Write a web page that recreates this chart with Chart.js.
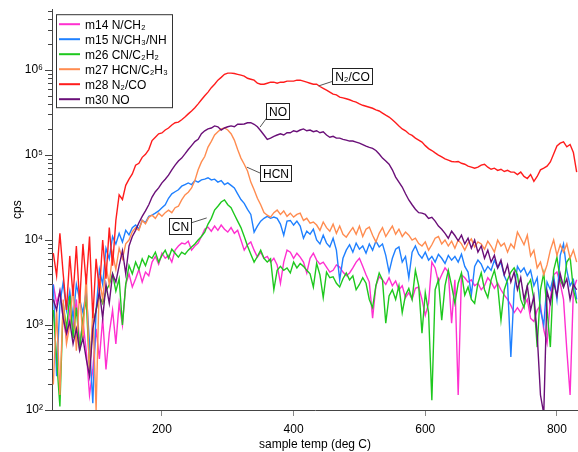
<!DOCTYPE html>
<html>
<head>
<meta charset="utf-8">
<script src="https://cdn.jsdelivr.net/npm/chart.js@4.4.1/dist/chart.umd.min.js"></script>
<style>
  html, body { margin: 0; padding: 0; background: #fff; }
</style>
</head>
<body>
<canvas id="myChart" width="578" height="452"></canvas>
<script>
// sample temperature (deg C), one reading every 5 degrees
const temps = [
  35,40,45,50,55,60,65,70,75,80,
  85,90,95,100,105,110,115,120,125,130,
  135,140,145,150,155,160,165,170,175,180,
  185,190,195,200,205,210,215,220,225,230,
  235,240,245,250,255,260,265,270,275,280,
  285,290,295,300,305,310,315,320,325,330,
  335,340,345,350,355,360,365,370,375,380,
  385,390,395,400,405,410,415,420,425,430,
  435,440,445,450,455,460,465,470,475,480,
  485,490,495,500,505,510,515,520,525,530,
  535,540,545,550,555,560,565,570,575,580,
  585,590,595,600,605,610,615,620,625,630,
  635,640,645,650,655,660,665,670,675,680,
  685,690,695,700,705,710,715,720,725,730,
  735,740,745,750,755,760,765,770,775,780,
  785,790,795,800,805,810,815,820,825,830
];

// counts per second for each mass
const m14 = [
  3000,1800,2500,1200,700,1500,900,2000,600,1100,
  500,150,300,900,400,1200,300,800,1500,600,
  1800,1000,3000,4000,2800,3500,4500,3200,4200,3800,
  5500,6400,5200,7000,6100,6600,5500,7600,8500,9200,
  9000,9700,7600,8500,9200,11000,13400,14200,12700,14600,
  13000,15000,13400,12400,14000,12000,13000,10000,7600,8800,
  9500,7600,6300,7200,6100,6400,5500,6100,5100,3100,
  5500,7600,7200,6100,7000,6300,5500,4100,6100,7000,
  5800,5200,5500,4800,4200,4400,5100,4800,4200,3800,
  4100,4700,5500,6100,4900,3900,3200,1200,2900,3700,
  3400,3000,3600,2900,3300,2600,2900,2100,2400,2000,
  2700,2800,2000,1300,1800,5500,4700,3200,3900,4700,
  4200,1050,3400,150,3900,3600,3200,3400,2900,3100,
  2600,2900,3600,3200,2700,3100,2600,2250,2000,1700,
  1400,1600,1400,1700,2000,1200,1100,1500,1700,880,
  610,2000,3900,4200,3100,2000,510,150,2600,3400
];
const m15 = [
  3000,250,1800,3200,1500,2500,1200,3000,2000,1400,
  2500,600,120,1500,4500,3000,8000,6000,11000,9000,
  12000,9500,13000,11500,14000,15000,13500,17000,16000,19000,
  19600,20700,22000,24000,26000,31000,35000,37000,39000,43000,
  45000,47000,45000,50000,48000,51000,52000,54000,51000,52000,
  48000,50000,45000,47000,44000,41000,35000,30000,27000,23000,
  20000,12400,14600,16700,18000,19000,18000,18600,18000,15400,
  11400,16700,17000,15000,16700,14600,10500,12700,11700,13400,
  10000,9000,11400,9200,8300,10500,7600,3400,6100,7600,
  8800,7200,9200,7800,8500,7000,9000,7600,9700,8300,
  9000,6600,4200,6100,7800,8300,5500,6400,3600,7200,
  8500,6800,6100,7200,5800,6400,5500,6800,6100,5300,
  6600,5800,6400,5500,6800,4900,4200,2250,4900,5800,
  5200,4200,4900,4400,5800,4700,5500,3800,3100,420,
  2600,4900,4200,4700,3800,4400,2900,3600,1500,1000,
  3200,2600,3800,2000,6600,9000,4400,2900,3400,2000
];
const m26 = [
  1500,400,110,1800,900,2200,700,1600,500,1200,
  2000,300,1000,1500,2200,1800,2500,3000,4000,2500,
  3500,1000,3000,5000,4000,5500,4500,6000,5000,6500,
  6100,7200,5500,6600,7600,6100,7800,7000,6300,7200,
  6800,7600,8300,9000,10000,11000,12400,15400,18000,22500,
  25000,28000,29600,26000,24000,20000,16700,14000,11000,8500,
  6800,5500,6400,7600,6100,5500,6000,2600,4400,4900,
  4400,4700,4100,5500,4700,5300,4900,4400,4000,2800,
  5300,3900,2100,4200,3600,3700,3100,2800,3500,4100,
  3400,3800,2600,3000,3600,3100,2000,1600,2900,4100,
  3400,1050,2200,2600,2000,2900,1400,2250,2700,2000,
  4400,2900,800,2400,1400,130,2600,3400,1140,2900,
  4400,2900,1800,3100,4100,2250,2800,2000,1800,3100,
  4100,2600,2100,3400,4400,2900,1140,2600,3400,4200,
  4700,3900,2000,1600,2900,3400,2000,550,2600,4100,
  1500,550,4400,6300,3400,2800,5500,6300,2600,1800
];
const m27 = [
  200,1500,150,2000,600,1000,3000,500,2500,700,
  4000,250,1500,100,3500,2000,5000,3000,7000,4500,
  8000,6000,9000,10000,12500,14000,13000,17000,15500,18500,
  19600,18000,20700,19000,21000,22500,21000,24000,25000,29600,
  34000,36500,41000,50000,67000,83000,96000,124000,145000,172000,
  188000,203000,208000,197000,178000,150000,116000,92000,78000,65000,
  48000,39000,31000,26000,21000,19600,18600,21000,22500,20000,
  22000,19000,20700,18600,20000,20700,17000,18000,15800,16300,
  15000,13000,16300,14000,12700,15400,12000,14600,11700,10800,
  12400,14000,11700,14600,11000,13400,14200,11400,9500,12000,
  14000,11000,12700,14600,11700,13400,11000,12400,11400,10000,
  10500,9100,8500,9500,7600,8800,10500,11000,9000,10000,
  8500,9700,8000,10000,9000,7600,9200,10300,8300,9500,
  9000,7800,9700,8500,7200,10000,8500,9200,7200,9000,
  8000,12400,10500,8800,11400,6500,7600,4700,5500,3900,
  5100,7600,10000,6600,8800,7200,9000,6100,7600,5500
];
const m28 = [
  7000,3800,12000,4000,1500,6500,2200,8500,1800,9000,
  3000,11000,1200,6000,2500,10000,3500,14000,5000,17000,
  34000,30000,44000,52000,60000,76000,80000,94000,102000,116000,
  148000,162000,178000,182000,197000,208000,226000,240000,244000,260000,
  280000,305000,330000,360000,400000,447000,498000,550000,620000,680000,
  760000,820000,890000,920000,920000,910000,890000,870000,850000,800000,
  780000,760000,700000,680000,680000,700000,720000,720000,700000,720000,
  720000,740000,740000,740000,760000,760000,740000,720000,700000,680000,
  680000,640000,610000,580000,550000,520000,510000,480000,470000,460000,
  447000,430000,420000,400000,385000,375000,365000,355000,340000,330000,
  312000,295000,280000,260000,240000,220000,203000,193000,178000,170000,
  158000,150000,142000,129000,119000,113000,106000,100000,95000,90000,
  87000,84000,83000,84000,80000,78000,74000,72000,70000,72000,
  76000,78000,72000,68000,70000,66000,68000,64000,66000,63000,
  63000,59000,63000,56000,53000,59000,49000,56000,67000,70000,
  74000,83000,103000,128000,138000,143000,125000,133000,107000,63000
];
const m30 = [
  2000,1500,2500,1200,800,1100,600,900,500,700,
  400,250,900,1500,2500,1200,3000,1800,4000,3200,
  5000,7500,4000,8500,11000,13000,16000,19000,22000,26000,
  32000,37000,41000,47000,52000,58000,67000,76000,85000,92000,
  103000,116000,129000,144000,153000,178000,193000,203000,208000,220000,
  215000,197000,208000,215000,220000,215000,230000,230000,232000,240000,
  240000,230000,215000,193000,172000,153000,158000,166000,172000,178000,
  172000,183000,183000,193000,188000,197000,203000,193000,197000,188000,
  193000,183000,188000,172000,162000,166000,158000,158000,153000,150000,
  146000,146000,142000,138000,133000,127000,123000,120000,113000,103000,
  92000,85000,78000,67000,55000,48000,42000,35000,29600,26000,
  23000,21000,20700,20000,18000,18500,16700,14600,13400,12000,
  10500,12700,11300,9800,11400,9000,10500,8000,10000,7200,
  8500,6100,7600,5500,6600,4700,5800,3900,5100,3200,
  4200,2600,3600,2000,2900,1500,2200,770,150,90,
  2500,1800,3200,2200,4000,2800,3500,2000,3000,2600
];

const seriesValues = [m14, m15, m26, m27, m28, m30];
const seriesLabels = ["m14 N/CH₂", "m15 N/CH₃/NH", "m26 CN/C₂H₂", "m27 HCN/C₂H₃", "m28 N₂/CO", "m30 NO"];
const seriesColors = ["#ff30d0", "#1f80ff", "#1ec81e", "#ff8c50", "#ff1c1c", "#6a0f78"];

const yMajorTicks = [1e2, 1e3, 1e4, 1e5, 1e6];
const yTickLabels = ["10²", "10³", "10⁴", "10⁵", "10⁶"];
const xTicks = [200, 400, 600, 800];

// boxed callouts: label position and leader line, in data units
const notes = [
  { text: "N₂/CO", x: 489, y: 8.6e5, from: [460, 7.4e5], to: [438, 6.5e5] },
  { text: "NO", x: 375, y: 3.34e5, from: [359, 2.72e5], to: [349, 2.13e5] },
  { text: "HCN", x: 373, y: 6.1e4, from: [352, 6.0e4], to: [329, 7.2e4] },
  { text: "CN", x: 227, y: 1.48e4, from: [243, 1.58e4], to: [268, 1.82e4] }
];

const FONT = "'Liberation Sans', Arial, Helvetica, sans-serif";
Chart.defaults.font.family = FONT;
Chart.defaults.font.size = 12;
Chart.defaults.color = "#000";

const minorTicks = {
  id: "minorTicks",
  afterDraw(chart) {
    const y = chart.scales.y;
    const ctx = chart.ctx;
    ctx.save();
    ctx.strokeStyle = "#444";
    ctx.lineWidth = 1;
    ctx.beginPath();
    for (let e = 2; e <= 6; e++) {
      for (let m = 2; m <= 9; m++) {
        const v = m * Math.pow(10, e);
        if (v > y.max) break;
        const py = Math.round(y.getPixelForValue(v)) + 0.5;
        ctx.moveTo(y.right - 4, py);
        ctx.lineTo(y.right, py);
      }
    }
    ctx.stroke();
    ctx.restore();
  }
};

const boxLegend = {
  id: "boxLegend",
  afterDatasetsDraw(chart) {
    const ctx = chart.ctx;
    const area = chart.chartArea;
    const ds = chart.data.datasets;
    const x0 = area.left + 4, y0 = area.top + 5, w = 116, rowH = 15;
    const h = rowH * ds.length + 3;
    ctx.save();
    ctx.fillStyle = "#fff";
    ctx.fillRect(x0, y0, w, h);
    ctx.strokeStyle = "#333";
    ctx.lineWidth = 1;
    ctx.strokeRect(x0 + 0.5, y0 + 0.5, w, h);
    ctx.font = "12px " + FONT;
    ctx.textBaseline = "middle";
    ctx.textAlign = "left";
    ds.forEach((d, i) => {
      const cy = y0 + 10 + i * rowH;
      ctx.strokeStyle = d.borderColor;
      ctx.lineWidth = 2;
      ctx.beginPath();
      ctx.moveTo(x0 + 3, cy);
      ctx.lineTo(x0 + 24, cy);
      ctx.stroke();
      ctx.fillStyle = "#000";
      ctx.fillText(d.label, x0 + 29, cy + 1);
    });
    ctx.restore();
  }
};

const callouts = {
  id: "callouts",
  afterDatasetsDraw(chart) {
    const { x, y } = chart.scales;
    const ctx = chart.ctx;
    ctx.save();
    ctx.font = "12px " + FONT;
    notes.forEach((n) => {
      ctx.strokeStyle = "#555";
      ctx.lineWidth = 1;
      ctx.beginPath();
      ctx.moveTo(x.getPixelForValue(n.from[0]), y.getPixelForValue(n.from[1]));
      ctx.lineTo(x.getPixelForValue(n.to[0]), y.getPixelForValue(n.to[1]));
      ctx.stroke();
      const cx = x.getPixelForValue(n.x);
      const cy = y.getPixelForValue(n.y);
      const bw = Math.round(ctx.measureText(n.text).width + 5);
      const bh = 16;
      const bx = Math.round(cx - bw / 2) + 0.5;
      const by = Math.round(cy - bh / 2) + 0.5;
      ctx.fillStyle = "#fff";
      ctx.fillRect(bx, by, bw, bh);
      ctx.strokeStyle = "#222";
      ctx.strokeRect(bx, by, bw, bh);
      ctx.fillStyle = "#000";
      ctx.textAlign = "center";
      ctx.textBaseline = "middle";
      ctx.fillText(n.text, bx + bw / 2, by + bh / 2 + 1);
    });
    ctx.restore();
  }
};

new Chart("myChart", {
  type: "line",
  data: {
    datasets: seriesValues.map((vals, i) => ({
      label: seriesLabels[i],
      data: vals.map((v, j) => ({ x: temps[j], y: v })),
      borderColor: seriesColors[i],
      backgroundColor: seriesColors[i],
      borderWidth: 1.4,
      pointRadius: 0,
      fill: false,
      tension: 0,
      order: seriesValues.length - i
    }))
  },
  options: {
    responsive: false,
    animation: false,
    devicePixelRatio: 1,
    layout: { padding: { top: 8, right: 0, left: 0, bottom: 0 } },
    plugins: {
      legend: { display: false },
      tooltip: { enabled: false }
    },
    scales: {
      x: {
        type: "linear",
        min: 33,
        max: 832,
        afterBuildTicks: (s) => { s.ticks = xTicks.map((v) => ({ value: v })); },
        afterFit: (s) => { s.height = 42; },
        grid: { drawOnChartArea: false, drawTicks: true, tickLength: 6, color: "#888" },
        border: { display: true, color: "#444", width: 1 },
        ticks: { padding: 6, maxRotation: 0, autoSkip: false, color: "#000" },
        title: { display: true, text: "sample temp (deg C)", padding: { top: 0, bottom: 0 }, color: "#000" }
      },
      y: {
        type: "logarithmic",
        min: 100,
        max: 5.2e6,
        afterBuildTicks: (s) => { s.ticks = yMajorTicks.map((v) => ({ value: v })); },
        afterFit: (s) => { s.width = 52; },
        grid: { drawOnChartArea: false, drawTicks: true, tickLength: 7, color: "#444" },
        border: { display: true, color: "#444", width: 1 },
        ticks: {
          padding: 2,
          autoSkip: false,
          color: "#000",
          callback: (v) => {
            const k = yMajorTicks.indexOf(v);
            return k >= 0 ? yTickLabels[k] : "";
          }
        },
        title: { display: true, text: "cps", padding: { top: 10, bottom: 0 }, color: "#000" }
      }
    }
  },
  plugins: [minorTicks, callouts, boxLegend]
});
</script>
</body>
</html>
